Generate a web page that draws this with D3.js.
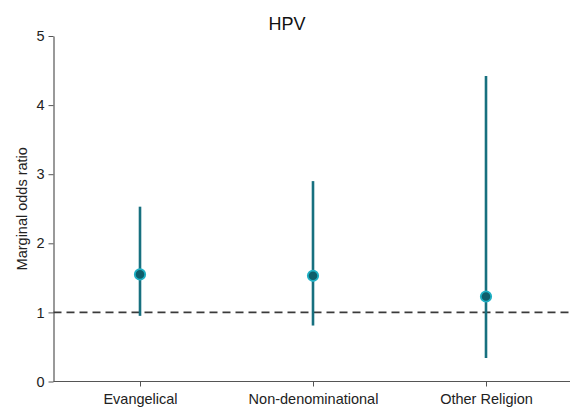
<!DOCTYPE html>
<html>
<head>
<meta charset="utf-8">
<script src="https://cdn.jsdelivr.net/npm/d3@7"></script>
<style>
  html, body { margin: 0; padding: 0; background: #fff; }
  svg { display: block; font-family: Arial, "Liberation Sans", sans-serif; }
</style>
</head>
<body>
<svg id="chart" width="570" height="407"></svg>
<script>
// Marginal odds ratios with 95% confidence intervals
const categories = ["Evangelical", "Non-denominational", "Other Religion"];
const estimates = [1.55, 1.53, 1.23];
const lowerCI = [0.95, 0.81, 0.34];
const upperCI = [2.53, 2.90, 4.42];
const yTicks = [0, 1, 2, 3, 4, 5];
const referenceValue = 1;
const chartTitle = "HPV";
const yLabel = "Marginal odds ratio";

const data = categories.map((c, i) => ({
  cat: c, est: estimates[i], lo: lowerCI[i], hi: upperCI[i]
}));

const svg = d3.select("#chart");
const plotLeft = 53.5, plotTop = 36, plotBottom = 381.5, plotRight = 572.5;
const fontFamily = "Arial, 'Liberation Sans', sans-serif";

const x = d3.scalePoint().domain(categories).range([plotLeft, plotRight]).padding(0.5);
const y = d3.scaleLinear().domain([0, 5]).range([plotBottom, plotTop]);

const axisColor = "#555";

// y axis
const yAxis = svg.append("g")
  .attr("transform", `translate(${plotLeft},0)`)
  .call(d3.axisLeft(y).tickValues(yTicks).tickFormat(d3.format("d"))
    .tickSize(5).tickSizeOuter(0).tickPadding(4));
yAxis.select(".domain").attr("stroke", axisColor).attr("stroke-width", 1.2);
yAxis.selectAll(".tick line").attr("stroke", axisColor);
yAxis.selectAll(".tick text").attr("font-size", 14.5).attr("fill", "#222")
  .attr("font-family", fontFamily);

// x axis
const xAxis = svg.append("g")
  .attr("transform", `translate(0,${plotBottom})`)
  .call(d3.axisBottom(x).tickSize(5).tickSizeOuter(0).tickPadding(7));
xAxis.select(".domain").attr("stroke", axisColor).attr("stroke-width", 1.2)
  .attr("d", `M${plotLeft},0H570`);
xAxis.selectAll(".tick line").attr("stroke", axisColor);
xAxis.selectAll(".tick text").attr("font-size", 14.5).attr("fill", "#222")
  .attr("font-family", fontFamily);

// reference line at odds ratio 1
svg.append("line")
  .attr("x1", plotLeft).attr("x2", 570)
  .attr("y1", y(referenceValue)).attr("y2", y(referenceValue))
  .attr("stroke", "#3a3a3a").attr("stroke-width", 1.6)
  .attr("stroke-dasharray", "8,5");

// confidence intervals
svg.append("g").selectAll("line").data(data).join("line")
  .attr("x1", d => x(d.cat)).attr("x2", d => x(d.cat))
  .attr("y1", d => y(d.lo)).attr("y2", d => y(d.hi))
  .attr("stroke", "#17707f").attr("stroke-width", 2.6);

// point estimates
svg.append("g").selectAll("circle").data(data).join("circle")
  .attr("cx", d => x(d.cat)).attr("cy", d => y(d.est))
  .attr("r", 5.2)
  .attr("fill", "#0e5e6b")
  .attr("stroke", "#1fb0c4").attr("stroke-width", 1.8);

// title
svg.append("text")
  .attr("x", 287).attr("y", 30)
  .attr("text-anchor", "middle")
  .attr("font-size", 18).attr("fill", "#111")
  .attr("font-family", fontFamily)
  .text(chartTitle);

// y axis title
svg.append("text")
  .attr("transform", `translate(27,${(plotTop + plotBottom) / 2}) rotate(-90)`)
  .attr("text-anchor", "middle")
  .attr("font-size", 14.5).attr("fill", "#222")
  .attr("font-family", fontFamily)
  .text(yLabel);
</script>
</body>
</html>
